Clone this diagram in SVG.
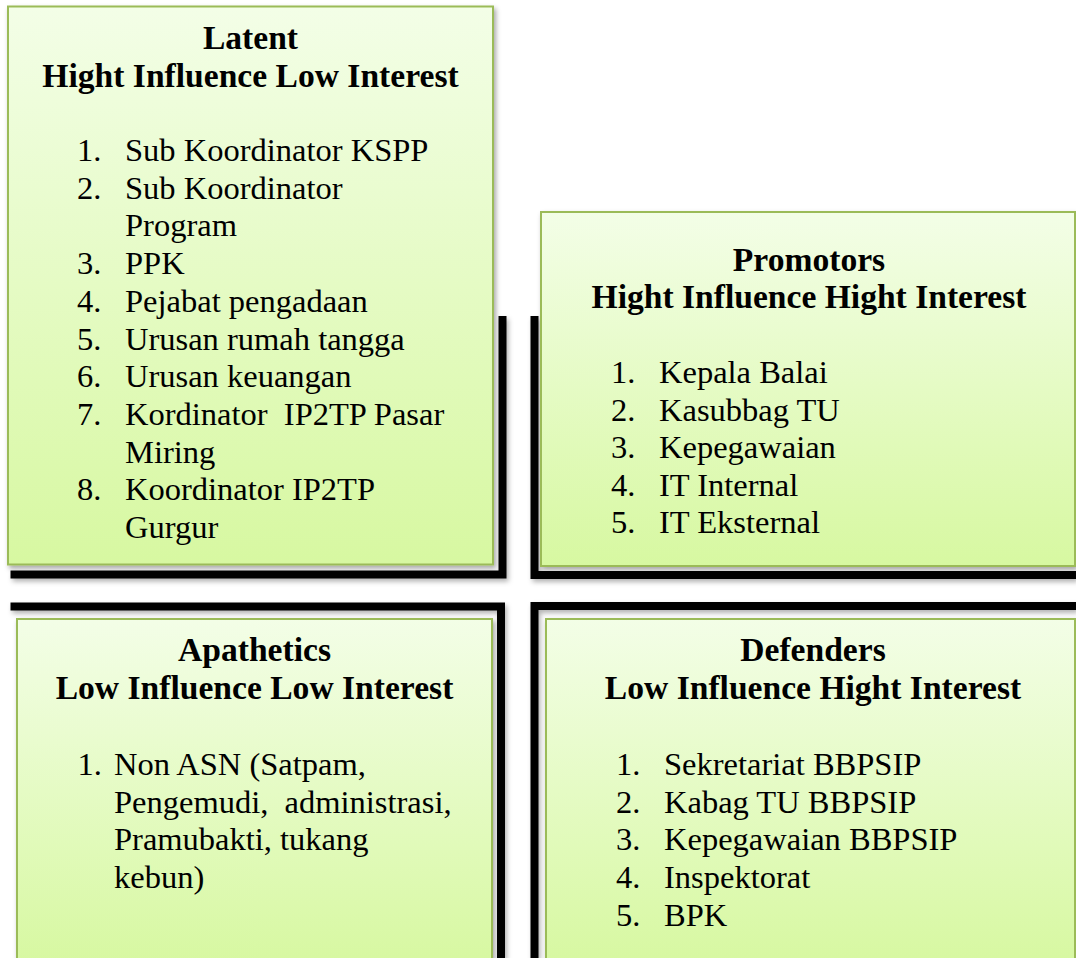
<svg xmlns="http://www.w3.org/2000/svg" width="1076" height="958" viewBox="0 0 1076 958">
<defs>
<linearGradient id="boxfill" x1="0" y1="0" x2="0" y2="1">
<stop offset="0" stop-color="#F3FEE7"/>
<stop offset="1" stop-color="#D7F8A1"/>
</linearGradient>
<filter id="shadow" x="-10%" y="-10%" width="120%" height="120%">
<feDropShadow dx="2" dy="3" stdDeviation="2.5" flood-color="#000" flood-opacity="0.35"/>
</filter>
<filter id="lshadow" x="-10%" y="-10%" width="120%" height="120%">
<feDropShadow dx="2" dy="3" stdDeviation="2.5" flood-color="#000" flood-opacity="0.3"/>
</filter>
</defs>
<style>
.box{fill:url(#boxfill);stroke:#9BBB59;stroke-width:2;filter:url(#shadow)}
.axis{fill:none;stroke:#000;stroke-width:8;stroke-linecap:butt;stroke-linejoin:miter;filter:url(#lshadow)}
text{font-family:"Liberation Serif","Times New Roman",serif;fill:#000}
.t{font-weight:bold;font-size:33.6px;text-anchor:middle}
.i{font-size:32.5px;white-space:pre}
</style>
<rect width="1076" height="958" fill="#fff"/>
<g id="connectors">
<path class="axis" d="M502.5,316 V574.5 H10.5"/>
<path class="axis" d="M534.5,316 V575 H1076"/>
<path class="axis" d="M10.5,606.5 H501 V958"/>
<path class="axis" d="M1076,606 H534.5 V958"/>
</g>
<g id="latent">
<rect class="box" x="8" y="6.5" width="485" height="558"/>
<text class="t" x="250.5" y="49">Latent</text>
<text class="t" x="250.5" y="86.5">Hight Influence Low Interest</text>
<text class="i" x="77" y="161">1.</text><text class="i" x="125" y="161">Sub Koordinator KSPP</text>
<text class="i" x="77" y="198.7">2.</text><text class="i" x="125" y="198.7">Sub Koordinator</text>
<text class="i" x="125" y="236.4">Program</text>
<text class="i" x="77" y="274.1">3.</text><text class="i" x="125" y="274.1">PPK</text>
<text class="i" x="77" y="311.8">4.</text><text class="i" x="125" y="311.8">Pejabat pengadaan</text>
<text class="i" x="77" y="349.5">5.</text><text class="i" x="125" y="349.5">Urusan rumah tangga</text>
<text class="i" x="77" y="387.2">6.</text><text class="i" x="125" y="387.2">Urusan keuangan</text>
<text class="i" x="77" y="424.9">7.</text><text class="i" x="125" y="424.9">Kordinator  IP2TP Pasar</text>
<text class="i" x="125" y="462.6">Miring</text>
<text class="i" x="77" y="500.3">8.</text><text class="i" x="125" y="500.3">Koordinator IP2TP</text>
<text class="i" x="125" y="538">Gurgur</text>
</g>
<g id="promotors">
<rect class="box" x="541" y="212" width="534" height="354"/>
<text class="t" x="809" y="271">Promotors</text>
<text class="t" x="809" y="307.5">Hight Influence Hight Interest</text>
<text class="i" x="611" y="383">1.</text><text class="i" x="659" y="383">Kepala Balai</text>
<text class="i" x="611" y="420.5">2.</text><text class="i" x="659" y="420.5">Kasubbag TU</text>
<text class="i" x="611" y="458">3.</text><text class="i" x="659" y="458">Kepegawaian</text>
<text class="i" x="611" y="495.5">4.</text><text class="i" x="659" y="495.5">IT Internal</text>
<text class="i" x="611" y="533">5.</text><text class="i" x="659" y="533">IT Eksternal</text>
</g>
<g id="apathetics">
<rect class="box" x="17" y="619" width="475" height="345"/>
<text class="t" x="254.5" y="661">Apathetics</text>
<text class="t" x="254.5" y="698.5">Low Influence Low Interest</text>
<text class="i" x="77.5" y="775">1.</text><text class="i" x="114" y="775">Non ASN (Satpam,</text>
<text class="i" x="114" y="812.7">Pengemudi,  administrasi,</text>
<text class="i" x="114" y="850.4">Pramubakti, tukang</text>
<text class="i" x="114" y="888">kebun)</text>
</g>
<g id="defenders">
<rect class="box" x="546" y="619" width="529" height="345"/>
<text class="t" x="813" y="661">Defenders</text>
<text class="t" x="813" y="698.5">Low Influence Hight Interest</text>
<text class="i" x="616" y="775">1.</text><text class="i" x="664" y="775">Sekretariat BBPSIP</text>
<text class="i" x="616" y="812.7">2.</text><text class="i" x="664" y="812.7">Kabag TU BBPSIP</text>
<text class="i" x="616" y="850.4">3.</text><text class="i" x="664" y="850.4">Kepegawaian BBPSIP</text>
<text class="i" x="616" y="888">4.</text><text class="i" x="664" y="888">Inspektorat</text>
<text class="i" x="616" y="925.7">5.</text><text class="i" x="664" y="925.7">BPK</text>
</g>
</svg>
